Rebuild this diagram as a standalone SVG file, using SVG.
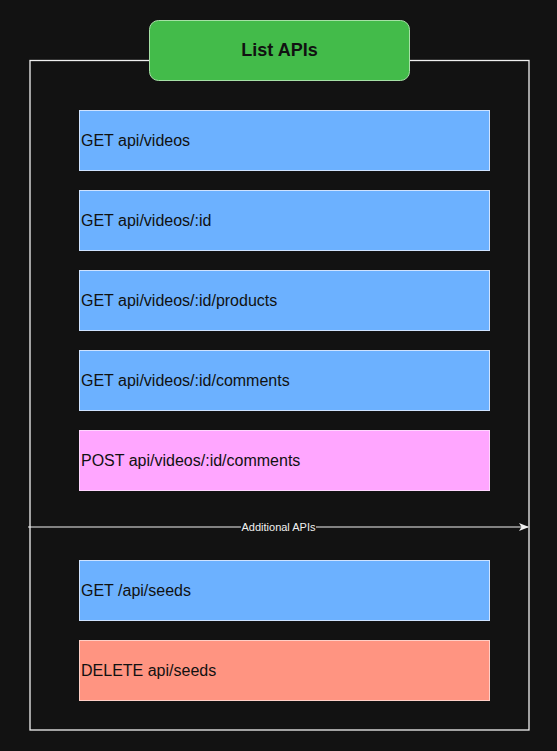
<svg xmlns="http://www.w3.org/2000/svg" width="557" height="751" viewBox="0 0 557 751">
<style>
.bg{fill:#121212}
.frame{fill:none;stroke:#f0f0f0;stroke-width:1.3}
.api{stroke-width:1}
.get{fill:#6cb1ff;stroke:#cfe3ff}
.post{fill:#ffa6ff;stroke:#ffd6ff}
.del{fill:#ff9481;stroke:#ffcfc6}
.t{font-family:"Liberation Sans",Arial,Helvetica,sans-serif;font-size:16px;fill:#111111}
.title{font-family:"Liberation Sans",Arial,Helvetica,sans-serif;font-size:18px;font-weight:bold;fill:#111111}
.lbl{font-family:"Liberation Sans",Arial,Helvetica,sans-serif;font-size:11px;fill:#f0f0f0}
.conn{stroke:#f0f0f0;stroke-width:1;fill:none}
</style>
<defs>
<marker id="arr" markerWidth="10" markerHeight="8" refX="9" refY="4" orient="auto" markerUnits="userSpaceOnUse">
<path d="M0,0 L10,4 L0,8 L2.5,4 Z" fill="#f0f0f0"/>
</marker>
</defs>
<rect class="bg" x="0" y="0" width="557" height="751"/>
<g id="container">
<rect class="frame" x="30" y="60.5" width="499" height="669.5"/>
</g>
<g id="title">
<rect x="149.5" y="20.5" width="260" height="60" rx="9" fill="#43bb4a" stroke="#a6e0a6" stroke-width="1"/>
<text class="title" x="279.5" y="56" text-anchor="middle">List APIs</text>
</g>
<g id="n1"><rect class="api get" x="79.5" y="110.5" width="410" height="60"/><text class="t" x="81" y="145.5">GET api/videos</text></g>
<g id="n2"><rect class="api get" x="79.5" y="190.5" width="410" height="60"/><text class="t" x="81" y="225.5">GET api/videos/:id</text></g>
<g id="n3"><rect class="api get" x="79.5" y="270.5" width="410" height="60"/><text class="t" x="81" y="305.5">GET api/videos/:id/products</text></g>
<g id="n4"><rect class="api get" x="79.5" y="350.5" width="410" height="60"/><text class="t" x="81" y="385.5">GET api/videos/:id/comments</text></g>
<g id="n5"><rect class="api post" x="79.5" y="430.5" width="410" height="60"/><text class="t" x="81" y="465.5">POST api/videos/:id/comments</text></g>
<g id="n6"><rect class="api get" x="79.5" y="560.5" width="410" height="60"/><text class="t" x="81" y="595.5">GET /api/seeds</text></g>
<g id="n7"><rect class="api del" x="79.5" y="640.5" width="410" height="60"/><text class="t" x="81" y="675.5">DELETE api/seeds</text></g>
<g id="connectors">
<line class="conn" x1="28" y1="527" x2="241" y2="527"/>
<line class="conn" x1="316" y1="527" x2="528" y2="527" marker-end="url(#arr)"/>
<text class="lbl" x="278.5" y="531" text-anchor="middle">Additional APIs</text>
</g>
</svg>
